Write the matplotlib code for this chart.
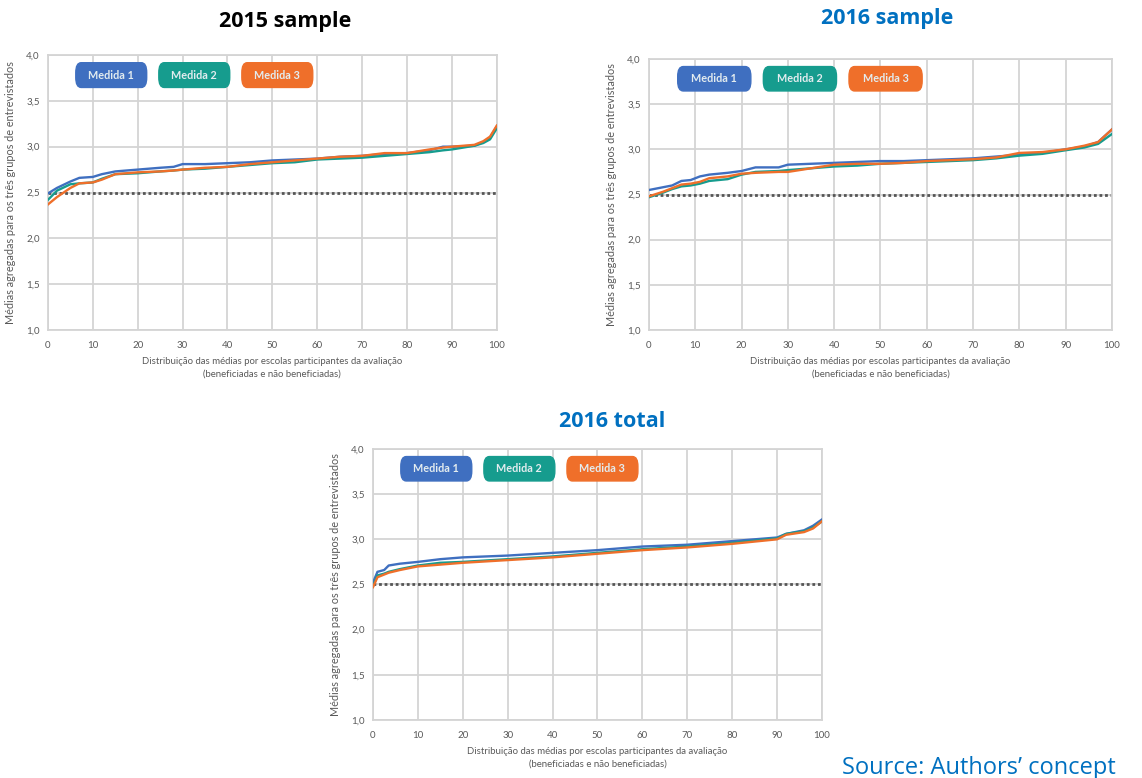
import matplotlib
matplotlib.use("Agg")
import matplotlib.pyplot as plt
from matplotlib.patches import FancyBboxPatch
from matplotlib.ticker import FuncFormatter

plt.rcParams['font.family'] = ['Lato', 'DejaVu Sans']

# ---- data: aggregated means by school percentile ----
series_names = ["Medida 1", "Medida 2", "Medida 3"]
series_colors = ["#3F6FC0", "#169C8E", "#EF6F2A"]

# 2015 sample
x_2015 = [0, 2, 5, 7, 10, 12, 15, 20, 25, 28, 30, 35, 40, 45, 50, 55, 60, 65, 70, 75, 80, 85, 88, 90, 95, 97, 98.5, 100]
m1_2015 = [2.49, 2.55, 2.62, 2.66, 2.67, 2.70, 2.73, 2.75, 2.77, 2.78, 2.81, 2.81, 2.82, 2.83, 2.85, 2.86, 2.87, 2.89, 2.90, 2.92, 2.93, 2.96, 3.00, 3.00, 3.01, 3.05, 3.10, 3.22]
m2_2015 = [2.42, 2.52, 2.59, 2.60, 2.61, 2.65, 2.70, 2.71, 2.73, 2.74, 2.75, 2.76, 2.78, 2.80, 2.82, 2.83, 2.86, 2.87, 2.88, 2.90, 2.92, 2.94, 2.96, 2.97, 3.01, 3.04, 3.08, 3.20]
m3_2015 = [2.37, 2.45, 2.55, 2.60, 2.61, 2.64, 2.70, 2.72, 2.73, 2.74, 2.75, 2.77, 2.78, 2.81, 2.83, 2.85, 2.87, 2.89, 2.90, 2.93, 2.93, 2.97, 2.99, 3.00, 3.02, 3.06, 3.11, 3.23]

# 2016 sample
x_2016s = [0, 3, 5, 7, 9, 11, 13, 17, 20, 23, 28, 30, 35, 40, 45, 50, 55, 60, 65, 70, 75, 80, 85, 90, 94, 97, 100]
m1_2016s = [2.55, 2.58, 2.60, 2.65, 2.66, 2.70, 2.72, 2.74, 2.76, 2.80, 2.80, 2.83, 2.84, 2.85, 2.86, 2.87, 2.87, 2.88, 2.89, 2.90, 2.92, 2.94, 2.96, 3.00, 3.03, 3.08, 3.22]
m2_2016s = [2.47, 2.52, 2.56, 2.59, 2.60, 2.62, 2.65, 2.67, 2.72, 2.75, 2.76, 2.77, 2.79, 2.81, 2.82, 2.84, 2.85, 2.86, 2.87, 2.88, 2.90, 2.93, 2.95, 2.99, 3.02, 3.06, 3.17]
m3_2016s = [2.48, 2.53, 2.57, 2.61, 2.62, 2.64, 2.68, 2.70, 2.73, 2.74, 2.75, 2.75, 2.79, 2.83, 2.84, 2.84, 2.85, 2.87, 2.88, 2.89, 2.91, 2.96, 2.97, 3.00, 3.04, 3.08, 3.22]

# 2016 total
x_2016t = [0, 1, 2.5, 3.5, 6, 10, 15, 20, 30, 40, 50, 55, 60, 70, 80, 90, 92, 96, 98, 100]
m1_2016t = [2.52, 2.64, 2.66, 2.71, 2.73, 2.75, 2.78, 2.80, 2.82, 2.85, 2.88, 2.90, 2.92, 2.94, 2.98, 3.02, 3.06, 3.10, 3.15, 3.22]
m2_2016t = [2.48, 2.60, 2.62, 2.64, 2.67, 2.71, 2.74, 2.75, 2.78, 2.81, 2.85, 2.87, 2.89, 2.92, 2.96, 3.01, 3.06, 3.09, 3.13, 3.20]
m3_2016t = [2.47, 2.58, 2.61, 2.63, 2.66, 2.70, 2.72, 2.74, 2.77, 2.80, 2.84, 2.86, 2.88, 2.91, 2.95, 3.00, 3.05, 3.08, 3.12, 3.20]

reference_level = 2.5
x_ticks = list(range(0, 101, 10))
y_ticks = [1.0, 1.5, 2.0, 2.5, 3.0, 3.5, 4.0]

panels = [
    ("2015 sample", "black", x_2015, [m1_2015, m2_2015, m3_2015],
     [0.042, 0.5758, 0.393, 0.3535], (0.25, 0.972)),
    ("2016 sample", "#0070C0", x_2016s, [m1_2016s, m2_2016s, m3_2016s],
     [0.5683, 0.5758, 0.4054, 0.3484], (0.777, 0.976)),
    ("2016 total", "#0070C0", x_2016t, [m1_2016t, m2_2016t, m3_2016t],
     [0.3266, 0.0746, 0.3932, 0.3483], (0.536, 0.458)),
]

fig = plt.figure(figsize=(11.42, 7.78), dpi=100)
fig.patch.set_facecolor("white")

tick_color = "#595959"
grid_color = "#D4D4D4"
comma = FuncFormatter(lambda v, p: f"{v:.1f}".replace(".", ","))
title_font = ['Open Sans', 'DejaVu Sans']

for title, tcolor, xs, ys, rect, tpos in panels:
    ax = fig.add_axes(rect)
    ax.set_xlim(0, 100)
    ax.set_ylim(1.0, 4.0)
    ax.set_xticks(x_ticks)
    ax.set_yticks(y_ticks)
    ax.yaxis.set_major_formatter(comma)
    ax.grid(True, color=grid_color, linewidth=1.3)
    ax.set_axisbelow(True)
    for s in ax.spines.values():
        s.set_color(grid_color)
        s.set_linewidth(1.3)
    ax.tick_params(length=0, labelsize=7, labelcolor=tick_color)
    ax.tick_params(axis="x", pad=8)
    ax.tick_params(axis="y", pad=6)

    ax.axhline(reference_level, color="#555555", linestyle=(0, (1, 1)), linewidth=2.0, zorder=2)
    for vals, col in zip(ys, series_colors):
        ax.plot(xs, vals, color=col, linewidth=1.7, zorder=3)

    ax.set_xlabel("Distribuição das médias por escolas participantes da avaliação\n(beneficiadas e não beneficiadas)",
                  fontsize=6.9, color=tick_color, labelpad=5, linespacing=1.5)
    ax.set_ylabel("Médias agregadas para os três grupos de entrevistados",
                  fontsize=7.8, color=tick_color, labelpad=7)

    # legend chips
    for i, (name, col) in enumerate(zip(series_names, series_colors)):
        x0 = 0.062 + i * 0.185
        box = FancyBboxPatch((x0, 0.882), 0.158, 0.09, transform=ax.transAxes,
                             boxstyle="round,pad=0,rounding_size=0.012",
                             facecolor=col, edgecolor=col, linewidth=1, zorder=5,
                             mutation_aspect=3.0)
        ax.add_patch(box)
        ax.text(x0 + 0.079, 0.927, name, transform=ax.transAxes, ha="center", va="center",
                fontsize=7.8, fontweight="bold", color="#E3ECEF", zorder=6)

    fig.text(tpos[0], tpos[1], title, ha="center", va="center", fontsize=15.5,
             fontweight="bold", color=tcolor, family=title_font)

fig.text(0.977, 0.013, "Source: Authors\u2019 concept", ha="right", va="center",
         fontsize=17, color="#0070C0", family=title_font)

fig.savefig("out.png", dpi=100)
